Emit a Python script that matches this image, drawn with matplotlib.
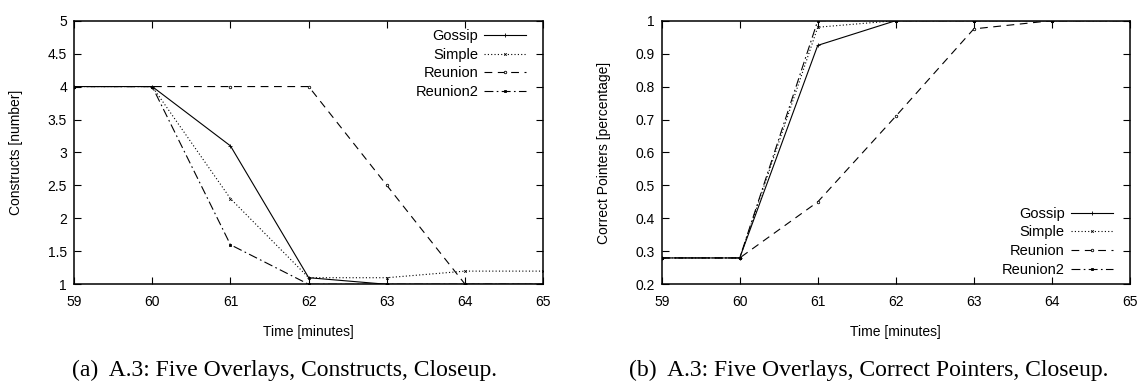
import matplotlib.pyplot as plt

plt.rcParams["font.family"] = ["Liberation Sans", "DejaVu Sans"]

minutes = [59, 60, 61, 62, 63, 64, 65]

# constructs per protocol
con_gossip = [4, 4, 3.1, 1.1, 1.0, 1.0, 1.0]
con_simple = [4, 4, 2.3, 1.1, 1.1, 1.2, 1.2]
con_reunion = [4, 4, 4, 4, 2.5, 1.0, 1.0]
con_reunion2 = [4, 4, 1.6, 1.0, 1.0, 1.0, 1.0]

# fraction of correct pointers per protocol
ptr_gossip = [0.28, 0.28, 0.925, 1.0, 1.0, 1.0, 1.0]
ptr_simple = [0.28, 0.28, 0.98, 1.0, 1.0, 1.0, 1.0]
ptr_reunion = [0.28, 0.28, 0.45, 0.71, 0.975, 1.0, 1.0]
ptr_reunion2 = [0.28, 0.28, 1.0, 1.0, 1.0, 1.0, 1.0]

names = ["Gossip", "Simple", "Reunion", "Reunion2"]
styles = [
    dict(linestyle="-", marker="+", markersize=2.5),
    dict(linestyle=(0, (1, 2)), marker="x", markersize=1.8),
    dict(linestyle=(0, (7, 5)), marker="o", markersize=1.8, markerfacecolor="white"),
    dict(linestyle=(0, (8, 3, 1.5, 3)), marker="s", markersize=1.8),
]


def draw(ax, series, ylim, yticks, ylabel, legend_loc, anchor):
    for name, vals, st in zip(names, series, styles):
        ax.plot(minutes, vals, color="black", linewidth=0.8, label=name,
                markeredgewidth=0.6, **st)
    ax.set_xlim(59, 65)
    ax.set_ylim(*ylim)
    ax.set_xticks(minutes)
    ax.set_yticks(yticks)
    ax.set_yticklabels([f"{t:g}" for t in yticks])
    ax.tick_params(direction="in", length=5, width=0.8, top=True, right=True,
                   labelsize=10)
    ax.tick_params(axis="x", pad=8)
    ax.tick_params(axis="y", pad=5)
    ax.set_xlabel("Time [minutes]", fontsize=10)
    ax.set_ylabel(ylabel, fontsize=10)
    ax.xaxis.set_label_coords(0.5, -0.155)
    ax.yaxis.set_label_coords(-0.1087, 0.5)
    for sp in ax.spines.values():
        sp.set_linewidth(1.1)
    ax.legend(loc=legend_loc, bbox_to_anchor=anchor, frameon=False,
              markerfirst=False, fontsize=10.5, handlelength=2.9,
              labelspacing=0.32, borderpad=0.3, borderaxespad=0,
              handletextpad=0.4)


fig = plt.figure(figsize=(11.42, 3.81), dpi=100)
ax1 = fig.add_axes([0.0648, 0.2538, 0.411, 0.692])
ax2 = fig.add_axes([0.5794, 0.2538, 0.410, 0.692])

draw(ax1, [con_gossip, con_simple, con_reunion, con_reunion2],
     (1, 5), [1, 1.5, 2, 2.5, 3, 3.5, 4, 4.5, 5], "Constructs [number]",
     "upper right", (0.973, 0.985))
draw(ax2, [ptr_gossip, ptr_simple, ptr_reunion, ptr_reunion2],
     (0.2, 1), [0.2, 0.3, 0.4, 0.5, 0.6, 0.7, 0.8, 0.9, 1],
     "Correct Pointers [percentage]", "lower right", (0.973, 0.0125))

fig.text(285 / 1142, 1 - 376 / 381, "(a)  A.3: Five Overlays, Constructs, Closeup.",
         ha="center", va="baseline", fontsize=17, family="Liberation Serif")
fig.text(869 / 1142, 1 - 376 / 381,
         "(b)  A.3: Five Overlays, Correct Pointers, Closeup.",
         ha="center", va="baseline", fontsize=17, family="Liberation Serif")

fig.savefig("out.png", dpi=100)
